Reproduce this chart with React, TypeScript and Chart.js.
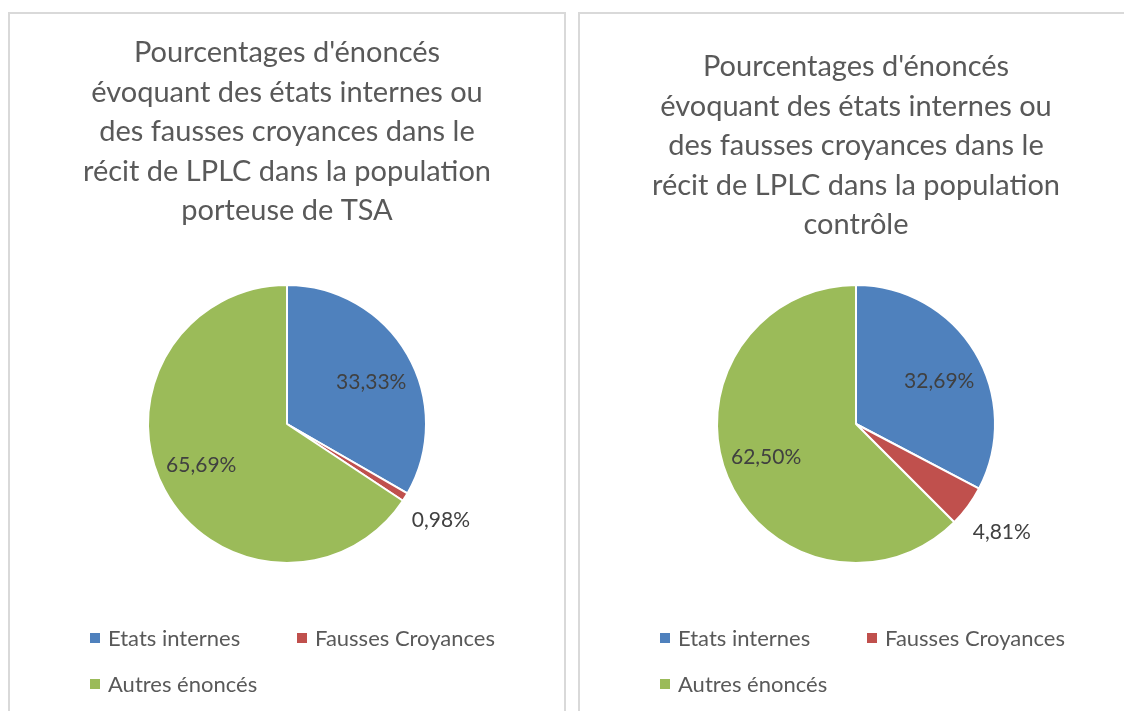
import React, { useEffect, useRef } from "react";
import { Chart, registerables } from "chart.js";

Chart.register(...registerables);

const categories = ["Etats internes", "Fausses Croyances", "Autres énoncés"];
const colors = ["#4F81BD", "#C0504D", "#9BBB59"];
const valuesTSA = [33.33, 0.98, 65.69];
const valuesControl = [32.69, 4.81, 62.5];
const titleTSA = [
  "Pourcentages d'énoncés",
  "évoquant des états internes ou",
  "des fausses croyances dans le",
  "récit de LPLC dans la population",
  "porteuse de TSA",
];
const titleControl = [
  "Pourcentages d'énoncés",
  "évoquant des états internes ou",
  "des fausses croyances dans le",
  "récit de LPLC dans la population",
  "contrôle",
];

const FONT = "Lato, 'Open Sans', sans-serif";
const LINE_H = 39.5;
const TITLE_SIZE = 29;

const overlayPlugin = {
  id: "overlay",
  afterDraw(chart: any) {
    const ctx = chart.ctx;
    const meta = chart.getDatasetMeta(0);
    const ds = chart.data.datasets[0];
    const total = ds.data.reduce((a: number, b: number) => a + b, 0);
    ctx.save();
    // data labels
    ctx.font = `21px ${FONT}`;
    ctx.fillStyle = "#404040";
    ctx.textAlign = "center";
    ctx.textBaseline = "middle";
    meta.data.forEach((arc: any, i: number) => {
      const v = ds.data[i];
      const mid = (arc.startAngle + arc.endAngle) / 2;
      const share = v / total;
      const inside = share > 0.1;
      const rx = inside ? arc.outerRadius * 0.7 : arc.outerRadius + 42;
      const ry = inside ? arc.outerRadius * 0.61 : arc.outerRadius + 42;
      const x = arc.x + Math.cos(mid) * rx;
      const y = arc.y + Math.sin(mid) * ry + 1;
      ctx.fillText(v.toFixed(2).replace(".", ",") + "%", x, y);
    });
    // legend
    ctx.font = `22px ${FONT}`;
    const labels = chart.data.labels;
    const pos = [
      [80, 624],
      [287, 624],
      [80, 670],
    ];
    ctx.textAlign = "left";
    labels.forEach((lab: string, i: number) => {
      const [x, y] = pos[i];
      ctx.fillStyle = ds.backgroundColor[i];
      ctx.fillRect(x, y - 5, 10, 10);
      ctx.fillStyle = "#595959";
      ctx.fillText(lab, x + 18, y + 1);
    });
    ctx.restore();
  },
};

function PiePanel(props: {
  values: number[];
  title: string[];
  left: number;
  width: number;
  canvasWidth: number;
  titleTop: number;
  padRight: number;
}) {
  const ref = useRef<HTMLCanvasElement>(null);
  useEffect(() => {
    const chart = new Chart(ref.current!, {
      type: "pie",
      data: {
        labels: categories,
        datasets: [
          {
            data: props.values,
            backgroundColor: colors,
            borderColor: "#ffffff",
            borderWidth: 2,
          },
        ],
      },
      options: {
        responsive: false,
        animation: false,
        events: [],
        layout: { padding: { left: 0, right: props.padRight, top: 0, bottom: 147 } },
        plugins: {
          legend: { display: false },
          tooltip: { enabled: false },
          title: {
            display: true,
            text: props.title,
            color: "#595959",
            font: { family: FONT, size: TITLE_SIZE, weight: "normal", lineHeight: LINE_H / TITLE_SIZE },
            padding: { top: props.titleTop, bottom: 270 - props.titleTop - LINE_H * 5 },
          },
        },
      },
      plugins: [overlayPlugin],
    });
    return () => chart.destroy();
  }, []);
  return (
    <div
      style={{
        position: "absolute",
        left: props.left,
        top: 12,
        width: props.width,
        height: 740,
        border: "2px solid #d9d9d9",
        boxSizing: "border-box",
        overflow: "hidden",
      }}
    >
      <canvas
        ref={ref}
        width={props.canvasWidth}
        height={697}
        style={{ position: "absolute", left: 0, top: 0, width: props.canvasWidth, height: 697 }}
      />
    </div>
  );
}

export default function App() {
  return (
    <div
      style={{
        position: "fixed",
        left: 0,
        top: 0,
        width: 1124,
        height: 711,
        overflow: "hidden",
        background: "#ffffff",
      }}
    >
      <PiePanel values={valuesTSA} title={titleTSA} left={8} width={558} canvasWidth={554} titleTop={19} padRight={0} />
      <PiePanel values={valuesControl} title={titleControl} left={578} width={600} canvasWidth={572} titleTop={33} padRight={20} />
    </div>
  );
}
